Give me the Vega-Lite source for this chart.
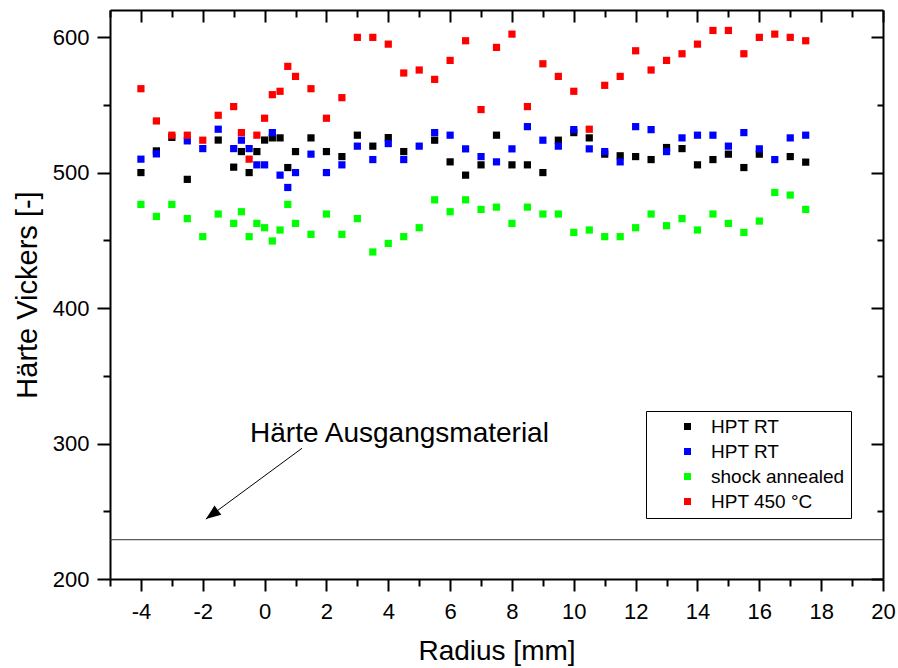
{
  "$schema": "https://vega.github.io/schema/vega-lite/v6.json",
  "width": 773,
  "height": 569,
  "autosize": {"type": "none"},
  "padding": {"left": 110, "top": 10, "right": 15, "bottom": 89},
  "background": "white",
  "config": {
    "font": "Liberation Sans",
    "view": {"stroke": null},
    "axis": {
      "domainColor": "black",
      "domainWidth": 2,
      "tickColor": "black",
      "tickWidth": 2,
      "grid": false,
      "labelFont": "Liberation Sans",
      "labelColor": "black",
      "labelFontSize": 22,
      "titleFont": "Liberation Sans",
      "titleColor": "black",
      "titleFontWeight": "normal",
      "titleFontSize": 28,
      "labelOverlap": false,
      "labelBound": false,
      "labelFlush": false
    }
  },
  "resolve": {"axis": {"x": "independent", "y": "independent"}},
  "layer": [
    {
      "data": {
        "values": [
          {"r": -4, "hv": 500, "s": "HPT RT (1)"},
          {"r": -3.5, "hv": 516, "s": "HPT RT (1)"},
          {"r": -3, "hv": 526, "s": "HPT RT (1)"},
          {"r": -2.5, "hv": 495, "s": "HPT RT (1)"},
          {"r": -1.5, "hv": 524, "s": "HPT RT (1)"},
          {"r": -1, "hv": 504, "s": "HPT RT (1)"},
          {"r": -0.75, "hv": 515.5, "s": "HPT RT (1)"},
          {"r": -0.5, "hv": 500, "s": "HPT RT (1)"},
          {"r": -0.25, "hv": 515.5, "s": "HPT RT (1)"},
          {"r": 0, "hv": 524, "s": "HPT RT (1)"},
          {"r": 0.25, "hv": 525.6, "s": "HPT RT (1)"},
          {"r": 0.5, "hv": 525.6, "s": "HPT RT (1)"},
          {"r": 0.75, "hv": 503.7, "s": "HPT RT (1)"},
          {"r": 1, "hv": 515.5, "s": "HPT RT (1)"},
          {"r": 1.5, "hv": 525.6, "s": "HPT RT (1)"},
          {"r": 2, "hv": 515.5, "s": "HPT RT (1)"},
          {"r": 2.5, "hv": 511.8, "s": "HPT RT (1)"},
          {"r": 3, "hv": 527.6, "s": "HPT RT (1)"},
          {"r": 3.5, "hv": 519.5, "s": "HPT RT (1)"},
          {"r": 4, "hv": 525.8, "s": "HPT RT (1)"},
          {"r": 4.5, "hv": 515.5, "s": "HPT RT (1)"},
          {"r": 5.5, "hv": 523.9, "s": "HPT RT (1)"},
          {"r": 6, "hv": 507.9, "s": "HPT RT (1)"},
          {"r": 6.5, "hv": 498.1, "s": "HPT RT (1)"},
          {"r": 7, "hv": 505.7, "s": "HPT RT (1)"},
          {"r": 7.5, "hv": 527.6, "s": "HPT RT (1)"},
          {"r": 8, "hv": 505.7, "s": "HPT RT (1)"},
          {"r": 8.5, "hv": 505.7, "s": "HPT RT (1)"},
          {"r": 9, "hv": 500, "s": "HPT RT (1)"},
          {"r": 9.5, "hv": 523.9, "s": "HPT RT (1)"},
          {"r": 10, "hv": 529.5, "s": "HPT RT (1)"},
          {"r": 10.5, "hv": 525.6, "s": "HPT RT (1)"},
          {"r": 11, "hv": 513.6, "s": "HPT RT (1)"},
          {"r": 11.5, "hv": 512.4, "s": "HPT RT (1)"},
          {"r": 12, "hv": 511.8, "s": "HPT RT (1)"},
          {"r": 12.5, "hv": 509.6, "s": "HPT RT (1)"},
          {"r": 13, "hv": 518.5, "s": "HPT RT (1)"},
          {"r": 13.5, "hv": 517.7, "s": "HPT RT (1)"},
          {"r": 14, "hv": 505.7, "s": "HPT RT (1)"},
          {"r": 14.5, "hv": 509.6, "s": "HPT RT (1)"},
          {"r": 15, "hv": 513.6, "s": "HPT RT (1)"},
          {"r": 15.5, "hv": 503.7, "s": "HPT RT (1)"},
          {"r": 16, "hv": 513.6, "s": "HPT RT (1)"},
          {"r": 17, "hv": 511.8, "s": "HPT RT (1)"},
          {"r": 17.5, "hv": 507.7, "s": "HPT RT (1)"},

          {"r": -4, "hv": 509.9, "s": "HPT RT (2)"},
          {"r": -3.5, "hv": 513.8, "s": "HPT RT (2)"},
          {"r": -2.5, "hv": 523.4, "s": "HPT RT (2)"},
          {"r": -2, "hv": 517.7, "s": "HPT RT (2)"},
          {"r": -1.5, "hv": 532, "s": "HPT RT (2)"},
          {"r": -1, "hv": 517.7, "s": "HPT RT (2)"},
          {"r": -0.75, "hv": 523.9, "s": "HPT RT (2)"},
          {"r": -0.5, "hv": 517.7, "s": "HPT RT (2)"},
          {"r": -0.25, "hv": 505.7, "s": "HPT RT (2)"},
          {"r": 0, "hv": 505.7, "s": "HPT RT (2)"},
          {"r": 0.25, "hv": 529.5, "s": "HPT RT (2)"},
          {"r": 0.5, "hv": 498.1, "s": "HPT RT (2)"},
          {"r": 0.75, "hv": 489, "s": "HPT RT (2)"},
          {"r": 1, "hv": 500, "s": "HPT RT (2)"},
          {"r": 1.5, "hv": 513.6, "s": "HPT RT (2)"},
          {"r": 2, "hv": 500, "s": "HPT RT (2)"},
          {"r": 2.5, "hv": 505.7, "s": "HPT RT (2)"},
          {"r": 3, "hv": 519.5, "s": "HPT RT (2)"},
          {"r": 3.5, "hv": 509.6, "s": "HPT RT (2)"},
          {"r": 4, "hv": 521.4, "s": "HPT RT (2)"},
          {"r": 4.5, "hv": 509.6, "s": "HPT RT (2)"},
          {"r": 5, "hv": 519.5, "s": "HPT RT (2)"},
          {"r": 5.5, "hv": 529.5, "s": "HPT RT (2)"},
          {"r": 6, "hv": 527.6, "s": "HPT RT (2)"},
          {"r": 6.5, "hv": 517.5, "s": "HPT RT (2)"},
          {"r": 7, "hv": 511.8, "s": "HPT RT (2)"},
          {"r": 7.5, "hv": 507.9, "s": "HPT RT (2)"},
          {"r": 8, "hv": 517.5, "s": "HPT RT (2)"},
          {"r": 8.5, "hv": 533.9, "s": "HPT RT (2)"},
          {"r": 9, "hv": 523.9, "s": "HPT RT (2)"},
          {"r": 9.5, "hv": 519.5, "s": "HPT RT (2)"},
          {"r": 10, "hv": 531.7, "s": "HPT RT (2)"},
          {"r": 10.5, "hv": 517.5, "s": "HPT RT (2)"},
          {"r": 11, "hv": 515.5, "s": "HPT RT (2)"},
          {"r": 11.5, "hv": 507.9, "s": "HPT RT (2)"},
          {"r": 12, "hv": 533.9, "s": "HPT RT (2)"},
          {"r": 12.5, "hv": 531.7, "s": "HPT RT (2)"},
          {"r": 13, "hv": 515.5, "s": "HPT RT (2)"},
          {"r": 13.5, "hv": 525.6, "s": "HPT RT (2)"},
          {"r": 14, "hv": 527.6, "s": "HPT RT (2)"},
          {"r": 14.5, "hv": 527.6, "s": "HPT RT (2)"},
          {"r": 15, "hv": 519.5, "s": "HPT RT (2)"},
          {"r": 15.5, "hv": 529.5, "s": "HPT RT (2)"},
          {"r": 16, "hv": 517.5, "s": "HPT RT (2)"},
          {"r": 16.5, "hv": 509.6, "s": "HPT RT (2)"},
          {"r": 17, "hv": 525.6, "s": "HPT RT (2)"},
          {"r": 17.5, "hv": 527.6, "s": "HPT RT (2)"},

          {"r": -4, "hv": 476.5, "s": "shock annealed"},
          {"r": -3.5, "hv": 467.6, "s": "shock annealed"},
          {"r": -3, "hv": 476.5, "s": "shock annealed"},
          {"r": -2.5, "hv": 466, "s": "shock annealed"},
          {"r": -2, "hv": 452.7, "s": "shock annealed"},
          {"r": -1.5, "hv": 469.4, "s": "shock annealed"},
          {"r": -1, "hv": 462.5, "s": "shock annealed"},
          {"r": -0.75, "hv": 471.1, "s": "shock annealed"},
          {"r": -0.5, "hv": 452.7, "s": "shock annealed"},
          {"r": -0.25, "hv": 462.5, "s": "shock annealed"},
          {"r": 0, "hv": 459.3, "s": "shock annealed"},
          {"r": 0.25, "hv": 449.5, "s": "shock annealed"},
          {"r": 0.5, "hv": 457.6, "s": "shock annealed"},
          {"r": 0.75, "hv": 476.5, "s": "shock annealed"},
          {"r": 1, "hv": 462.5, "s": "shock annealed"},
          {"r": 1.5, "hv": 454.4, "s": "shock annealed"},
          {"r": 2, "hv": 469.4, "s": "shock annealed"},
          {"r": 2.5, "hv": 454.4, "s": "shock annealed"},
          {"r": 3, "hv": 466, "s": "shock annealed"},
          {"r": 3.5, "hv": 441.4, "s": "shock annealed"},
          {"r": 4, "hv": 447.7, "s": "shock annealed"},
          {"r": 4.5, "hv": 452.7, "s": "shock annealed"},
          {"r": 5, "hv": 459.3, "s": "shock annealed"},
          {"r": 5.5, "hv": 479.9, "s": "shock annealed"},
          {"r": 6, "hv": 471.1, "s": "shock annealed"},
          {"r": 6.5, "hv": 479.9, "s": "shock annealed"},
          {"r": 7, "hv": 472.8, "s": "shock annealed"},
          {"r": 7.5, "hv": 474.5, "s": "shock annealed"},
          {"r": 8, "hv": 462.5, "s": "shock annealed"},
          {"r": 8.5, "hv": 474.5, "s": "shock annealed"},
          {"r": 9, "hv": 469.4, "s": "shock annealed"},
          {"r": 9.5, "hv": 469.4, "s": "shock annealed"},
          {"r": 10, "hv": 455.8, "s": "shock annealed"},
          {"r": 10.5, "hv": 457.6, "s": "shock annealed"},
          {"r": 11, "hv": 452.7, "s": "shock annealed"},
          {"r": 11.5, "hv": 452.7, "s": "shock annealed"},
          {"r": 12, "hv": 459.3, "s": "shock annealed"},
          {"r": 12.5, "hv": 469.4, "s": "shock annealed"},
          {"r": 13, "hv": 460.8, "s": "shock annealed"},
          {"r": 13.5, "hv": 466, "s": "shock annealed"},
          {"r": 14, "hv": 457.6, "s": "shock annealed"},
          {"r": 14.5, "hv": 469.4, "s": "shock annealed"},
          {"r": 15, "hv": 462.5, "s": "shock annealed"},
          {"r": 15.5, "hv": 455.8, "s": "shock annealed"},
          {"r": 16, "hv": 464.2, "s": "shock annealed"},
          {"r": 16.5, "hv": 485.3, "s": "shock annealed"},
          {"r": 17, "hv": 483.4, "s": "shock annealed"},
          {"r": 17.5, "hv": 472.8, "s": "shock annealed"},

          {"r": -4, "hv": 561.9, "s": "HPT 450 °C"},
          {"r": -3.5, "hv": 538.1, "s": "HPT 450 °C"},
          {"r": -3, "hv": 527.6, "s": "HPT 450 °C"},
          {"r": -2.5, "hv": 527.6, "s": "HPT 450 °C"},
          {"r": -2, "hv": 523.9, "s": "HPT 450 °C"},
          {"r": -1.5, "hv": 542.3, "s": "HPT 450 °C"},
          {"r": -1, "hv": 548.7, "s": "HPT 450 °C"},
          {"r": -0.75, "hv": 529.5, "s": "HPT 450 °C"},
          {"r": -0.5, "hv": 509.9, "s": "HPT 450 °C"},
          {"r": -0.25, "hv": 527.6, "s": "HPT 450 °C"},
          {"r": 0, "hv": 540.1, "s": "HPT 450 °C"},
          {"r": 0.25, "hv": 557.5, "s": "HPT 450 °C"},
          {"r": 0.5, "hv": 560, "s": "HPT 450 °C"},
          {"r": 0.75, "hv": 578.4, "s": "HPT 450 °C"},
          {"r": 1, "hv": 571, "s": "HPT 450 °C"},
          {"r": 1.5, "hv": 561.9, "s": "HPT 450 °C"},
          {"r": 2, "hv": 540.1, "s": "HPT 450 °C"},
          {"r": 2.5, "hv": 555.3, "s": "HPT 450 °C"},
          {"r": 3, "hv": 599.8, "s": "HPT 450 °C"},
          {"r": 3.5, "hv": 599.8, "s": "HPT 450 °C"},
          {"r": 4, "hv": 594.8, "s": "HPT 450 °C"},
          {"r": 4.5, "hv": 573.5, "s": "HPT 450 °C"},
          {"r": 5, "hv": 575.7, "s": "HPT 450 °C"},
          {"r": 5.5, "hv": 568.8, "s": "HPT 450 °C"},
          {"r": 6, "hv": 582.8, "s": "HPT 450 °C"},
          {"r": 6.5, "hv": 597.3, "s": "HPT 450 °C"},
          {"r": 7, "hv": 546.5, "s": "HPT 450 °C"},
          {"r": 7.5, "hv": 592.4, "s": "HPT 450 °C"},
          {"r": 8, "hv": 602.2, "s": "HPT 450 °C"},
          {"r": 8.5, "hv": 548.7, "s": "HPT 450 °C"},
          {"r": 9, "hv": 580.3, "s": "HPT 450 °C"},
          {"r": 9.5, "hv": 571, "s": "HPT 450 °C"},
          {"r": 10, "hv": 560, "s": "HPT 450 °C"},
          {"r": 10.5, "hv": 532, "s": "HPT 450 °C"},
          {"r": 11, "hv": 564.4, "s": "HPT 450 °C"},
          {"r": 11.5, "hv": 571, "s": "HPT 450 °C"},
          {"r": 12, "hv": 589.9, "s": "HPT 450 °C"},
          {"r": 12.5, "hv": 575.7, "s": "HPT 450 °C"},
          {"r": 13, "hv": 582.8, "s": "HPT 450 °C"},
          {"r": 13.5, "hv": 587.7, "s": "HPT 450 °C"},
          {"r": 14, "hv": 594.8, "s": "HPT 450 °C"},
          {"r": 14.5, "hv": 604.9, "s": "HPT 450 °C"},
          {"r": 15, "hv": 604.9, "s": "HPT 450 °C"},
          {"r": 15.5, "hv": 587.7, "s": "HPT 450 °C"},
          {"r": 16, "hv": 599.8, "s": "HPT 450 °C"},
          {"r": 16.5, "hv": 602.2, "s": "HPT 450 °C"},
          {"r": 17, "hv": 599.8, "s": "HPT 450 °C"},
          {"r": 17.5, "hv": 597.3, "s": "HPT 450 °C"}
        ]
      },
      "mark": {"type": "square", "size": 52, "opacity": 1},
      "encoding": {
        "x": {
          "field": "r",
          "type": "quantitative",
          "scale": {"domain": [-5, 20], "nice": false, "zero": false},
          "axis": {
            "orient": "bottom",
            "title": "Radius [mm]",
            "values": [-5, -4, -3, -2, -1, 0, 1, 2, 3, 4, 5, 6, 7, 8, 9, 10, 11, 12, 13, 14, 15, 16, 17, 18, 19, 20],
            "tickSize": {"condition": {"test": "datum.value % 2 === 0", "value": 12}, "value": 7},
            "labelExpr": "datum.value % 2 === 0 ? '' + datum.value : ''",
            "labelPadding": 10,
            "titlePadding": 15
          }
        },
        "y": {
          "field": "hv",
          "type": "quantitative",
          "scale": {"domain": [200, 620], "nice": false, "zero": false},
          "axis": {
            "orient": "left",
            "title": "Härte Vickers [-]",
            "titleFontSize": 29,
            "values": [200, 250, 300, 350, 400, 450, 500, 550, 600],
            "tickSize": {"condition": {"test": "datum.value % 100 === 0", "value": 13}, "value": 7},
            "labelExpr": "datum.value % 100 === 0 ? '' + datum.value : ''",
            "labelPadding": 8,
            "titlePadding": 10
          }
        },
        "color": {
          "field": "s",
          "type": "nominal",
          "sort": null,
          "scale": {
            "domain": ["HPT RT (1)", "HPT RT (2)", "shock annealed", "HPT 450 °C"],
            "range": ["#000000", "#0000ff", "#00ff00", "#ff0000"]
          },
          "legend": {
            "orient": "none",
            "legendX": 536,
            "legendY": 401,
            "title": null,
            "strokeColor": "black",
            "fillColor": "white",
            "padding": 6,
            "rowPadding": 5,
            "symbolType": "square",
            "symbolSize": 49,
            "symbolStrokeWidth": 0,
            "symbolOffset": 26,
            "labelOffset": 14,
            "labelFont": "Liberation Sans",
            "labelFontSize": 19,
            "labelColor": "black",
            "labelLimit": 400,
            "labelExpr": "datum.label === 'HPT RT (1)' || datum.label === 'HPT RT (2)' ? 'HPT RT' : (datum.label === 'shock annealed' ? 'shock annealed\u00a0\u00a0\u00a0' : datum.label)"
          }
        }
      }
    },
    {
      "data": {"values": [{"hv0": 229}]},
      "mark": {"type": "rule", "color": "#333333", "strokeWidth": 1},
      "encoding": {
        "y": {"field": "hv0", "type": "quantitative", "axis": null}
      }
    },
    {
      "data": {"values": [{"ax": 1.21, "ay": 296.5, "ax2": -1.9, "ay2": 244.2}]},
      "mark": {"type": "rule", "color": "black", "strokeWidth": 1},
      "encoding": {
        "x": {"field": "ax", "type": "quantitative", "axis": null},
        "y": {"field": "ay", "type": "quantitative", "axis": null},
        "x2": {"field": "ax2"},
        "y2": {"field": "ay2"}
      }
    },
    {
      "data": {"values": [{"hx": -1.9, "hy": 244.2}]},
      "mark": {"type": "point", "shape": "M0,0L-0.38,-1L0.38,-1Z", "size": 900, "angle": 53.5, "filled": true, "color": "black", "opacity": 1, "strokeWidth": 0},
      "encoding": {
        "x": {"field": "hx", "type": "quantitative", "axis": null},
        "y": {"field": "hy", "type": "quantitative", "axis": null}
      }
    },
    {
      "data": {"values": [{"tx": -0.47, "ty": 300.9, "label": "Härte Ausgangsmaterial"}]},
      "mark": {"type": "text", "align": "left", "baseline": "alphabetic", "font": "Liberation Sans", "fontSize": 28, "color": "black"},
      "encoding": {
        "x": {
          "field": "tx",
          "type": "quantitative",
          "axis": {
            "orient": "top",
            "title": null,
            "labels": false,
            "values": [-5, -4, -3, -2, -1, 0, 1, 2, 3, 4, 5, 6, 7, 8, 9, 10, 11, 12, 13, 14, 15, 16, 17, 18, 19, 20],
            "tickSize": {"condition": {"test": "datum.value % 2 === 0", "value": -12}, "value": -7}
          }
        },
        "y": {
          "field": "ty",
          "type": "quantitative",
          "axis": {
            "orient": "right",
            "title": null,
            "labels": false,
            "values": [200, 250, 300, 350, 400, 450, 500, 550, 600],
            "tickSize": {"condition": {"test": "datum.value % 100 === 0", "value": -12}, "value": -6}
          }
        },
        "text": {"field": "label"}
      }
    }
  ]
}
